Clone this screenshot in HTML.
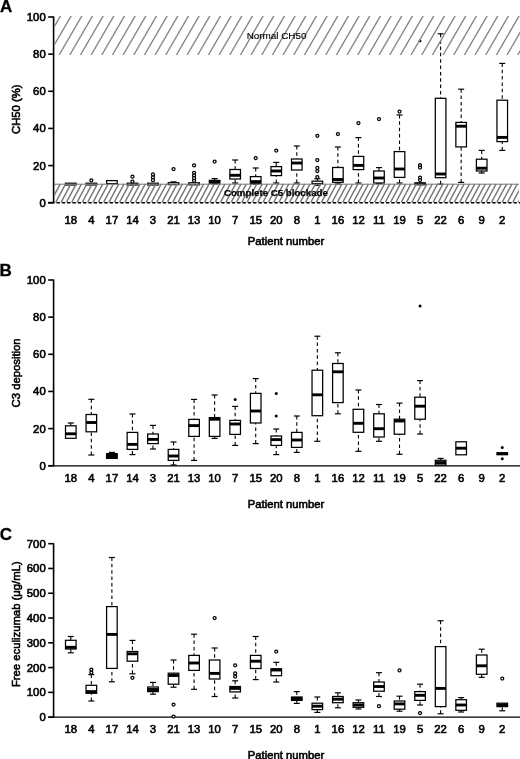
<!DOCTYPE html>
<html><head><meta charset="utf-8"><title>Figure</title>
<style>
html,body{margin:0;padding:0;background:#fff}
svg{display:block}
.t{font-family:"Liberation Sans",sans-serif;font-size:11.3px;fill:#000;stroke:#000;stroke-width:0.6px}
.s{font-size:9.9px;stroke-width:0.15px}
.bd{font-weight:bold;stroke-width:0.25px;font-size:9.7px}
.pl{font-family:"Liberation Sans",sans-serif;font-size:17px;font-weight:bold;fill:#000;stroke:#000;stroke-width:0.3px}
.ax{stroke:#000;stroke-width:1.6;fill:none}
.axx{stroke:#000;stroke-width:1.35;fill:none}
.b{stroke:#000;stroke-width:1.25;fill:#fff}
.k{fill:#000}
.m{stroke:#000;stroke-width:2.9}
.w{stroke:#000;stroke-width:1.1;stroke-dasharray:3.5 2.85}
.c{stroke:#000;stroke-width:1.2}
.o{stroke:#000;stroke-width:1.25;fill:#fff}
.of{fill:#000}
.h1{stroke:#888;stroke-width:1.4;fill:none}
.h2{stroke:#787878;stroke-width:1.45;fill:none}
.h3{stroke:#777;stroke-width:1;fill:none}
</style></head><body>
<svg width="520" height="759" viewBox="0 0 520 759">
<rect width="520" height="759" fill="#fff"/>
<defs><clipPath id="ca"><rect x="54.3" y="15.8" width="466" height="39.1"/></clipPath><clipPath id="cb"><rect x="54.3" y="183.6" width="464.5" height="18.6"/></clipPath></defs>
<line x1="48" y1="202.7" x2="54.6" y2="202.7" class="ax"/>
<line x1="53.6" y1="16.5" x2="53.6" y2="203.2" class="ax"/>
<line x1="48.2" y1="202.7" x2="53.6" y2="202.7" class="ax"/>
<text x="45.7" y="206.7" text-anchor="end" class="t">0</text>
<line x1="48.2" y1="165.56" x2="53.6" y2="165.56" class="ax"/>
<text x="45.7" y="169.56" text-anchor="end" class="t">20</text>
<line x1="48.2" y1="128.42" x2="53.6" y2="128.42" class="ax"/>
<text x="45.7" y="132.42" text-anchor="end" class="t">40</text>
<line x1="48.2" y1="91.28" x2="53.6" y2="91.28" class="ax"/>
<text x="45.7" y="95.28" text-anchor="end" class="t">60</text>
<line x1="48.2" y1="54.14" x2="53.6" y2="54.14" class="ax"/>
<text x="45.7" y="58.14" text-anchor="end" class="t">80</text>
<line x1="48.2" y1="17" x2="53.6" y2="17" class="ax"/>
<text x="45.7" y="21" text-anchor="end" class="t">100</text>
<rect x="65.5" y="183.2" width="10.6" height="1.8" class="b"/>
<rect x="86.05" y="183.2" width="10.6" height="1.8" class="b"/>
<circle cx="91.34" cy="180.3" r="1.5" class="o"/>
<rect x="106.59" y="180.6" width="10.6" height="3" class="b"/>
<rect x="127.14" y="183.2" width="10.6" height="1.8" class="b"/>
<circle cx="132.44" cy="176.7" r="1.5" class="o"/>
<circle cx="132.44" cy="181.6" r="1.5" class="o"/>
<rect x="147.68" y="183.2" width="10.6" height="1.8" class="b"/>
<circle cx="152.98" cy="174.4" r="1.5" class="o"/>
<circle cx="152.98" cy="177.3" r="1.5" class="o"/>
<circle cx="152.98" cy="180.2" r="1.5" class="o"/>
<line x1="173.53" y1="181.9" x2="173.53" y2="182.7" class="w"/>
<line x1="170.53" y1="181.9" x2="176.53" y2="181.9" class="c"/>
<rect x="168.22" y="182.7" width="10.6" height="1.9" class="b"/>
<circle cx="173.53" cy="169" r="1.5" class="o"/>
<rect x="188.77" y="182.8" width="10.6" height="2" class="b"/>
<circle cx="194.07" cy="165.4" r="1.5" class="o"/>
<circle cx="194.07" cy="172.8" r="1.5" class="o"/>
<circle cx="194.07" cy="175.6" r="1.5" class="o"/>
<circle cx="194.07" cy="178.2" r="1.5" class="o"/>
<circle cx="194.07" cy="180.8" r="1.5" class="o"/>
<line x1="214.62" y1="178.6" x2="214.62" y2="180.4" class="w"/>
<line x1="214.62" y1="184" x2="214.62" y2="183.2" class="w"/>
<line x1="211.62" y1="178.6" x2="217.62" y2="178.6" class="c"/>
<line x1="211.62" y1="184" x2="217.62" y2="184" class="c"/>
<rect x="209.31" y="180.4" width="10.6" height="2.8" class="b"/>
<line x1="209.31" y1="181.6" x2="219.92" y2="181.6" class="m"/>
<circle cx="214.62" cy="161.6" r="1.5" class="o"/>
<line x1="235.16" y1="160" x2="235.16" y2="169.5" class="w"/>
<line x1="235.16" y1="183" x2="235.16" y2="179" class="w"/>
<line x1="232.16" y1="160" x2="238.16" y2="160" class="c"/>
<line x1="232.16" y1="183" x2="238.16" y2="183" class="c"/>
<rect x="229.86" y="169.5" width="10.6" height="9.5" class="b"/>
<line x1="229.86" y1="175.3" x2="240.46" y2="175.3" class="m"/>
<line x1="255.71" y1="168" x2="255.71" y2="176.6" class="w"/>
<line x1="255.71" y1="184.2" x2="255.71" y2="183.4" class="w"/>
<line x1="252.71" y1="168" x2="258.71" y2="168" class="c"/>
<line x1="252.71" y1="184.2" x2="258.71" y2="184.2" class="c"/>
<rect x="250.41" y="176.6" width="10.6" height="6.8" class="b"/>
<line x1="250.41" y1="181.6" x2="261.01" y2="181.6" class="m"/>
<circle cx="255.71" cy="158" r="1.5" class="o"/>
<line x1="276.25" y1="162.4" x2="276.25" y2="166.6" class="w"/>
<line x1="276.25" y1="183" x2="276.25" y2="175.6" class="w"/>
<line x1="273.25" y1="162.4" x2="279.25" y2="162.4" class="c"/>
<line x1="273.25" y1="183" x2="279.25" y2="183" class="c"/>
<rect x="270.95" y="166.6" width="10.6" height="9" class="b"/>
<line x1="270.95" y1="171" x2="281.55" y2="171" class="m"/>
<circle cx="276.25" cy="150.6" r="1.5" class="o"/>
<line x1="296.8" y1="146" x2="296.8" y2="159" class="w"/>
<line x1="296.8" y1="183" x2="296.8" y2="170" class="w"/>
<line x1="293.8" y1="146" x2="299.8" y2="146" class="c"/>
<line x1="293.8" y1="183" x2="299.8" y2="183" class="c"/>
<rect x="291.5" y="159" width="10.6" height="11" class="b"/>
<line x1="291.5" y1="163" x2="302.1" y2="163" class="m"/>
<line x1="317.34" y1="178.8" x2="317.34" y2="181.2" class="w"/>
<line x1="317.34" y1="185.2" x2="317.34" y2="183.6" class="w"/>
<line x1="314.34" y1="178.8" x2="320.34" y2="178.8" class="c"/>
<line x1="314.34" y1="185.2" x2="320.34" y2="185.2" class="c"/>
<rect x="312.04" y="181.2" width="10.6" height="2.4" class="b"/>
<circle cx="317.34" cy="135.8" r="1.5" class="o"/>
<circle cx="317.34" cy="160" r="1.5" class="o"/>
<circle cx="317.34" cy="167.9" r="1.5" class="o"/>
<circle cx="317.34" cy="171.1" r="1.5" class="o"/>
<circle cx="317.34" cy="177.1" r="1.5" class="o"/>
<line x1="337.89" y1="147" x2="337.89" y2="167.5" class="w"/>
<line x1="337.89" y1="184" x2="337.89" y2="182.3" class="w"/>
<line x1="334.89" y1="147" x2="340.89" y2="147" class="c"/>
<line x1="334.89" y1="184" x2="340.89" y2="184" class="c"/>
<rect x="332.59" y="167.5" width="10.6" height="14.8" class="b"/>
<line x1="332.59" y1="179.5" x2="343.19" y2="179.5" class="m"/>
<circle cx="337.89" cy="134" r="1.5" class="o"/>
<line x1="358.43" y1="137.6" x2="358.43" y2="156.4" class="w"/>
<line x1="358.43" y1="183" x2="358.43" y2="169.6" class="w"/>
<line x1="355.43" y1="137.6" x2="361.43" y2="137.6" class="c"/>
<line x1="355.43" y1="183" x2="361.43" y2="183" class="c"/>
<rect x="353.13" y="156.4" width="10.6" height="13.2" class="b"/>
<line x1="353.13" y1="165.4" x2="363.73" y2="165.4" class="m"/>
<circle cx="358.43" cy="123" r="1.5" class="o"/>
<line x1="378.98" y1="167.6" x2="378.98" y2="171" class="w"/>
<line x1="378.98" y1="183.6" x2="378.98" y2="183" class="w"/>
<line x1="375.98" y1="167.6" x2="381.98" y2="167.6" class="c"/>
<line x1="375.98" y1="183.6" x2="381.98" y2="183.6" class="c"/>
<rect x="373.68" y="171" width="10.6" height="12" class="b"/>
<line x1="373.68" y1="178" x2="384.28" y2="178" class="m"/>
<circle cx="378.98" cy="119" r="1.5" class="o"/>
<line x1="399.52" y1="115" x2="399.52" y2="151.6" class="w"/>
<line x1="399.52" y1="183" x2="399.52" y2="177.4" class="w"/>
<line x1="396.52" y1="115" x2="402.52" y2="115" class="c"/>
<line x1="396.52" y1="183" x2="402.52" y2="183" class="c"/>
<rect x="394.22" y="151.6" width="10.6" height="25.8" class="b"/>
<line x1="394.22" y1="169" x2="404.82" y2="169" class="m"/>
<circle cx="399.52" cy="111.6" r="1.5" class="o"/>
<rect x="414.77" y="183" width="10.6" height="1.6" class="b"/>
<line x1="414.77" y1="183.8" x2="425.37" y2="183.8" class="m"/>
<circle cx="420.07" cy="165" r="1.5" class="o"/>
<circle cx="420.07" cy="167.5" r="1.5" class="o"/>
<circle cx="420.07" cy="177.7" r="1.5" class="o"/>
<circle cx="420.07" cy="180" r="1.5" class="o"/>
<circle cx="420.07" cy="40.9" r="0.8" class="o"/>
<line x1="440.61" y1="33.8" x2="440.61" y2="98.3" class="w"/>
<line x1="440.61" y1="184.2" x2="440.61" y2="177.7" class="w"/>
<line x1="437.61" y1="33.8" x2="443.61" y2="33.8" class="c"/>
<line x1="437.61" y1="184.2" x2="443.61" y2="184.2" class="c"/>
<rect x="435.31" y="98.3" width="10.6" height="79.4" class="b"/>
<line x1="435.31" y1="174" x2="445.91" y2="174" class="m"/>
<line x1="461.16" y1="89.2" x2="461.16" y2="122.4" class="w"/>
<line x1="461.16" y1="182.4" x2="461.16" y2="146.9" class="w"/>
<line x1="458.16" y1="89.2" x2="464.16" y2="89.2" class="c"/>
<line x1="458.16" y1="182.4" x2="464.16" y2="182.4" class="c"/>
<rect x="455.86" y="122.4" width="10.6" height="24.5" class="b"/>
<line x1="455.86" y1="126.2" x2="466.46" y2="126.2" class="m"/>
<line x1="481.7" y1="150.4" x2="481.7" y2="159.2" class="w"/>
<line x1="481.7" y1="173" x2="481.7" y2="171" class="w"/>
<line x1="478.7" y1="150.4" x2="484.7" y2="150.4" class="c"/>
<line x1="478.7" y1="173" x2="484.7" y2="173" class="c"/>
<rect x="476.4" y="159.2" width="10.6" height="11.8" class="b"/>
<line x1="476.4" y1="168.2" x2="487" y2="168.2" class="m"/>
<line x1="502.25" y1="63.4" x2="502.25" y2="100.2" class="w"/>
<line x1="502.25" y1="150.4" x2="502.25" y2="141.6" class="w"/>
<line x1="499.25" y1="63.4" x2="505.25" y2="63.4" class="c"/>
<line x1="499.25" y1="150.4" x2="505.25" y2="150.4" class="c"/>
<rect x="496.95" y="100.2" width="10.6" height="41.4" class="b"/>
<line x1="496.95" y1="137.4" x2="507.55" y2="137.4" class="m"/>
<g clip-path="url(#ca)"><path d="M27.11 55L49.9 15.8M37.77 55L60.56 15.8M48.44 55L71.23 15.8M59.1 55L81.89 15.8M69.77 55L92.56 15.8M80.43 55L103.22 15.8M91.1 55L113.89 15.8M101.76 55L124.55 15.8M112.43 55L135.22 15.8M123.09 55L145.88 15.8M133.76 55L156.55 15.8M144.42 55L167.21 15.8M155.09 55L177.88 15.8M165.75 55L188.54 15.8M176.42 55L199.21 15.8M187.08 55L209.87 15.8M197.75 55L220.54 15.8M208.41 55L231.2 15.8M219.08 55L241.87 15.8M229.74 55L252.53 15.8M240.41 55L263.2 15.8M251.07 55L273.86 15.8M261.74 55L284.53 15.8M272.4 55L295.19 15.8M283.07 55L305.86 15.8M293.73 55L316.52 15.8M304.4 55L327.19 15.8M315.06 55L337.85 15.8M325.73 55L348.52 15.8M336.39 55L359.19 15.8M347.06 55L369.85 15.8M357.72 55L380.52 15.8M368.39 55L391.18 15.8M379.05 55L401.85 15.8M389.72 55L412.51 15.8M400.38 55L423.18 15.8M411.05 55L433.84 15.8M421.71 55L444.51 15.8M432.38 55L455.17 15.8M443.04 55L465.84 15.8M453.71 55L476.5 15.8M464.37 55L487.17 15.8M475.04 55L497.83 15.8M485.7 55L508.5 15.8M496.37 55L519.16 15.8M507.03 55L529.83 15.8M517.7 55L540.49 15.8" class="h1"/></g>
<g clip-path="url(#cb)"><path d="M44.44 203.6L55 183.8M49.75 203.6L60.31 183.8M55.07 203.6L65.63 183.8M60.38 203.6L70.94 183.8M65.7 203.6L76.26 183.8M71.01 203.6L81.57 183.8M76.32 203.6L86.88 183.8M81.64 203.6L92.2 183.8M86.95 203.6L97.51 183.8M92.27 203.6L102.83 183.8M97.58 203.6L108.14 183.8M102.89 203.6L113.45 183.8M108.21 203.6L118.77 183.8M113.52 203.6L124.08 183.8M118.84 203.6L129.4 183.8M124.15 203.6L134.71 183.8M129.46 203.6L140.02 183.8M134.78 203.6L145.34 183.8M140.09 203.6L150.65 183.8M145.41 203.6L155.97 183.8M150.72 203.6L161.28 183.8M156.03 203.6L166.59 183.8M161.35 203.6L171.91 183.8M166.66 203.6L177.22 183.8M171.98 203.6L182.54 183.8M177.29 203.6L187.85 183.8M182.6 203.6L193.16 183.8M187.92 203.6L198.48 183.8M193.23 203.6L203.79 183.8M198.55 203.6L209.11 183.8M203.86 203.6L214.42 183.8M209.17 203.6L219.73 183.8M214.49 203.6L225.05 183.8M219.8 203.6L230.36 183.8M225.12 203.6L235.68 183.8M230.43 203.6L240.99 183.8M235.74 203.6L246.3 183.8M241.06 203.6L251.62 183.8M246.37 203.6L256.93 183.8M251.69 203.6L262.25 183.8M257 203.6L267.56 183.8M262.31 203.6L272.87 183.8M267.63 203.6L278.19 183.8M272.94 203.6L283.5 183.8M278.26 203.6L288.82 183.8M283.57 203.6L294.13 183.8M288.88 203.6L299.44 183.8M294.2 203.6L304.76 183.8M299.51 203.6L310.07 183.8M304.83 203.6L315.39 183.8M310.14 203.6L320.7 183.8M315.45 203.6L326.01 183.8M320.77 203.6L331.33 183.8M326.08 203.6L336.64 183.8M331.4 203.6L341.96 183.8M336.71 203.6L347.27 183.8M342.02 203.6L352.58 183.8M347.34 203.6L357.9 183.8M352.65 203.6L363.21 183.8M357.97 203.6L368.53 183.8M363.28 203.6L373.84 183.8M368.59 203.6L379.15 183.8M373.91 203.6L384.47 183.8M379.22 203.6L389.78 183.8M384.54 203.6L395.1 183.8M389.85 203.6L400.41 183.8M395.16 203.6L405.72 183.8M400.48 203.6L411.04 183.8M405.79 203.6L416.35 183.8M411.11 203.6L421.67 183.8M416.42 203.6L426.98 183.8M421.73 203.6L432.29 183.8M427.05 203.6L437.61 183.8M432.36 203.6L442.92 183.8M437.68 203.6L448.24 183.8M442.99 203.6L453.55 183.8M448.3 203.6L458.86 183.8M453.62 203.6L464.18 183.8M458.93 203.6L469.49 183.8M464.25 203.6L474.81 183.8M469.56 203.6L480.12 183.8M474.87 203.6L485.43 183.8M480.19 203.6L490.75 183.8M485.5 203.6L496.06 183.8M490.82 203.6L501.38 183.8M496.13 203.6L506.69 183.8M501.44 203.6L512 183.8M506.76 203.6L517.32 183.8M512.07 203.6L522.63 183.8M517.39 203.6L527.95 183.8" class="h2"/></g>
<line x1="54" y1="184.2" x2="519" y2="184.2" class="h3"/>
<line x1="56.5" y1="202.7" x2="520" y2="202.7" class="ax" stroke-dasharray="3.414 1.9"/>
<text x="276.6" y="38.8" text-anchor="middle" class="t s">Normal CH50</text>
<text x="275.9" y="195.7" text-anchor="middle" class="t s bd">Complete C5 blockade</text>
<text x="70.8" y="224.2" text-anchor="middle" class="t">18</text>
<text x="91.34" y="224.2" text-anchor="middle" class="t">4</text>
<text x="111.89" y="224.2" text-anchor="middle" class="t">17</text>
<text x="132.44" y="224.2" text-anchor="middle" class="t">14</text>
<text x="152.98" y="224.2" text-anchor="middle" class="t">3</text>
<text x="173.53" y="224.2" text-anchor="middle" class="t">21</text>
<text x="194.07" y="224.2" text-anchor="middle" class="t">13</text>
<text x="214.62" y="224.2" text-anchor="middle" class="t">10</text>
<text x="235.16" y="224.2" text-anchor="middle" class="t">7</text>
<text x="255.71" y="224.2" text-anchor="middle" class="t">15</text>
<text x="276.25" y="224.2" text-anchor="middle" class="t">20</text>
<text x="296.8" y="224.2" text-anchor="middle" class="t">8</text>
<text x="317.34" y="224.2" text-anchor="middle" class="t">1</text>
<text x="337.89" y="224.2" text-anchor="middle" class="t">16</text>
<text x="358.43" y="224.2" text-anchor="middle" class="t">12</text>
<text x="378.98" y="224.2" text-anchor="middle" class="t">11</text>
<text x="399.52" y="224.2" text-anchor="middle" class="t">19</text>
<text x="420.07" y="224.2" text-anchor="middle" class="t">5</text>
<text x="440.61" y="224.2" text-anchor="middle" class="t">22</text>
<text x="461.16" y="224.2" text-anchor="middle" class="t">6</text>
<text x="481.7" y="224.2" text-anchor="middle" class="t">9</text>
<text x="502.25" y="224.2" text-anchor="middle" class="t">2</text>
<text x="286" y="244.8" text-anchor="middle" class="t">Patient number</text>
<text transform="translate(20.0,109.2) rotate(-90)" text-anchor="middle" class="t">CH50 (%)</text>
<text x="0" y="12.1" class="pl">A</text>
<line x1="48.3" y1="465.9" x2="520" y2="465.9" class="axx"/>
<line x1="53.6" y1="279.5" x2="53.6" y2="466.25" class="ax"/>
<line x1="48.2" y1="465.75" x2="53.6" y2="465.75" class="ax"/>
<text x="45.7" y="469.75" text-anchor="end" class="t">0</text>
<line x1="48.2" y1="428.6" x2="53.6" y2="428.6" class="ax"/>
<text x="45.7" y="432.6" text-anchor="end" class="t">20</text>
<line x1="48.2" y1="391.45" x2="53.6" y2="391.45" class="ax"/>
<text x="45.7" y="395.45" text-anchor="end" class="t">40</text>
<line x1="48.2" y1="354.3" x2="53.6" y2="354.3" class="ax"/>
<text x="45.7" y="358.3" text-anchor="end" class="t">60</text>
<line x1="48.2" y1="317.15" x2="53.6" y2="317.15" class="ax"/>
<text x="45.7" y="321.15" text-anchor="end" class="t">80</text>
<line x1="48.2" y1="280" x2="53.6" y2="280" class="ax"/>
<text x="45.7" y="284" text-anchor="end" class="t">100</text>
<line x1="70.8" y1="423" x2="70.8" y2="425.8" class="w"/>
<line x1="67.8" y1="423" x2="73.8" y2="423" class="c"/>
<rect x="65.5" y="425.8" width="10.6" height="12.5" class="b"/>
<line x1="65.5" y1="433.8" x2="76.1" y2="433.8" class="m"/>
<line x1="91.34" y1="399.3" x2="91.34" y2="414.5" class="w"/>
<line x1="91.34" y1="455" x2="91.34" y2="431.8" class="w"/>
<line x1="88.34" y1="399.3" x2="94.34" y2="399.3" class="c"/>
<line x1="88.34" y1="455" x2="94.34" y2="455" class="c"/>
<rect x="86.05" y="414.5" width="10.6" height="17.3" class="b"/>
<line x1="86.05" y1="422.5" x2="96.64" y2="422.5" class="m"/>
<line x1="111.89" y1="452.4" x2="111.89" y2="453.6" class="w"/>
<line x1="108.89" y1="452.4" x2="114.89" y2="452.4" class="c"/>
<rect x="106.59" y="453.6" width="10.6" height="4.8" class="b k"/>
<line x1="106.59" y1="456" x2="117.19" y2="456" class="m"/>
<line x1="132.44" y1="414" x2="132.44" y2="432.4" class="w"/>
<line x1="132.44" y1="454.6" x2="132.44" y2="449.4" class="w"/>
<line x1="129.44" y1="414" x2="135.44" y2="414" class="c"/>
<line x1="129.44" y1="454.6" x2="135.44" y2="454.6" class="c"/>
<rect x="127.14" y="432.4" width="10.6" height="17" class="b"/>
<line x1="127.14" y1="444.4" x2="137.74" y2="444.4" class="m"/>
<line x1="152.98" y1="425.4" x2="152.98" y2="434" class="w"/>
<line x1="152.98" y1="449" x2="152.98" y2="443.6" class="w"/>
<line x1="149.98" y1="425.4" x2="155.98" y2="425.4" class="c"/>
<line x1="149.98" y1="449" x2="155.98" y2="449" class="c"/>
<rect x="147.68" y="434" width="10.6" height="9.6" class="b"/>
<line x1="147.68" y1="439.4" x2="158.28" y2="439.4" class="m"/>
<line x1="173.53" y1="442" x2="173.53" y2="449.4" class="w"/>
<line x1="173.53" y1="465" x2="173.53" y2="460.4" class="w"/>
<line x1="170.53" y1="442" x2="176.53" y2="442" class="c"/>
<line x1="170.53" y1="465" x2="176.53" y2="465" class="c"/>
<rect x="168.22" y="449.4" width="10.6" height="11" class="b"/>
<line x1="168.22" y1="456" x2="178.83" y2="456" class="m"/>
<line x1="194.07" y1="399.4" x2="194.07" y2="419.4" class="w"/>
<line x1="194.07" y1="460.4" x2="194.07" y2="436.4" class="w"/>
<line x1="191.07" y1="399.4" x2="197.07" y2="399.4" class="c"/>
<line x1="191.07" y1="460.4" x2="197.07" y2="460.4" class="c"/>
<rect x="188.77" y="419.4" width="10.6" height="17" class="b"/>
<line x1="188.77" y1="425.6" x2="199.37" y2="425.6" class="m"/>
<line x1="214.62" y1="395" x2="214.62" y2="417.6" class="w"/>
<line x1="214.62" y1="438.4" x2="214.62" y2="436.4" class="w"/>
<line x1="211.62" y1="395" x2="217.62" y2="395" class="c"/>
<line x1="211.62" y1="438.4" x2="217.62" y2="438.4" class="c"/>
<rect x="209.31" y="417.6" width="10.6" height="18.8" class="b"/>
<line x1="209.31" y1="419.2" x2="219.92" y2="419.2" class="m"/>
<line x1="235.16" y1="406.4" x2="235.16" y2="420.4" class="w"/>
<line x1="235.16" y1="445.4" x2="235.16" y2="434.4" class="w"/>
<line x1="232.16" y1="406.4" x2="238.16" y2="406.4" class="c"/>
<line x1="232.16" y1="445.4" x2="238.16" y2="445.4" class="c"/>
<rect x="229.86" y="420.4" width="10.6" height="14" class="b"/>
<line x1="229.86" y1="424" x2="240.46" y2="424" class="m"/>
<circle cx="235.16" cy="399.4" r="1.5" class="of"/>
<line x1="255.71" y1="378.6" x2="255.71" y2="393.4" class="w"/>
<line x1="255.71" y1="443.6" x2="255.71" y2="423" class="w"/>
<line x1="252.71" y1="378.6" x2="258.71" y2="378.6" class="c"/>
<line x1="252.71" y1="443.6" x2="258.71" y2="443.6" class="c"/>
<rect x="250.41" y="393.4" width="10.6" height="29.6" class="b"/>
<line x1="250.41" y1="411" x2="261.01" y2="411" class="m"/>
<line x1="276.25" y1="429" x2="276.25" y2="436" class="w"/>
<line x1="276.25" y1="454.6" x2="276.25" y2="445.4" class="w"/>
<line x1="273.25" y1="429" x2="279.25" y2="429" class="c"/>
<line x1="273.25" y1="454.6" x2="279.25" y2="454.6" class="c"/>
<rect x="270.95" y="436" width="10.6" height="9.4" class="b"/>
<line x1="270.95" y1="439.6" x2="281.55" y2="439.6" class="m"/>
<circle cx="276.25" cy="393.4" r="1.5" class="of"/>
<circle cx="276.25" cy="416" r="1.5" class="of"/>
<line x1="296.8" y1="416" x2="296.8" y2="432.4" class="w"/>
<line x1="296.8" y1="452.4" x2="296.8" y2="447.4" class="w"/>
<line x1="293.8" y1="416" x2="299.8" y2="416" class="c"/>
<line x1="293.8" y1="452.4" x2="299.8" y2="452.4" class="c"/>
<rect x="291.5" y="432.4" width="10.6" height="15" class="b"/>
<line x1="291.5" y1="440" x2="302.1" y2="440" class="m"/>
<line x1="317.34" y1="336.2" x2="317.34" y2="370.2" class="w"/>
<line x1="317.34" y1="441.3" x2="317.34" y2="415.7" class="w"/>
<line x1="314.34" y1="336.2" x2="320.34" y2="336.2" class="c"/>
<line x1="314.34" y1="441.3" x2="320.34" y2="441.3" class="c"/>
<rect x="312.04" y="370.2" width="10.6" height="45.5" class="b"/>
<line x1="312.04" y1="394.8" x2="322.64" y2="394.8" class="m"/>
<line x1="337.89" y1="352.8" x2="337.89" y2="363.5" class="w"/>
<line x1="337.89" y1="413.8" x2="337.89" y2="402.6" class="w"/>
<line x1="334.89" y1="352.8" x2="340.89" y2="352.8" class="c"/>
<line x1="334.89" y1="413.8" x2="340.89" y2="413.8" class="c"/>
<rect x="332.59" y="363.5" width="10.6" height="39.1" class="b"/>
<line x1="332.59" y1="371.8" x2="343.19" y2="371.8" class="m"/>
<line x1="358.43" y1="390" x2="358.43" y2="409.3" class="w"/>
<line x1="358.43" y1="451.3" x2="358.43" y2="432.3" class="w"/>
<line x1="355.43" y1="390" x2="361.43" y2="390" class="c"/>
<line x1="355.43" y1="451.3" x2="361.43" y2="451.3" class="c"/>
<rect x="353.13" y="409.3" width="10.6" height="23" class="b"/>
<line x1="353.13" y1="423.3" x2="363.73" y2="423.3" class="m"/>
<line x1="378.98" y1="404.5" x2="378.98" y2="413.8" class="w"/>
<line x1="378.98" y1="441.3" x2="378.98" y2="437" class="w"/>
<line x1="375.98" y1="404.5" x2="381.98" y2="404.5" class="c"/>
<line x1="375.98" y1="441.3" x2="381.98" y2="441.3" class="c"/>
<rect x="373.68" y="413.8" width="10.6" height="23.2" class="b"/>
<line x1="373.68" y1="428.7" x2="384.28" y2="428.7" class="m"/>
<line x1="399.52" y1="403.1" x2="399.52" y2="419.2" class="w"/>
<line x1="399.52" y1="454.3" x2="399.52" y2="434.2" class="w"/>
<line x1="396.52" y1="403.1" x2="402.52" y2="403.1" class="c"/>
<line x1="396.52" y1="454.3" x2="402.52" y2="454.3" class="c"/>
<rect x="394.22" y="419.2" width="10.6" height="15" class="b"/>
<line x1="394.22" y1="421" x2="404.82" y2="421" class="m"/>
<line x1="420.07" y1="380.6" x2="420.07" y2="397.2" class="w"/>
<line x1="420.07" y1="434" x2="420.07" y2="419.2" class="w"/>
<line x1="417.07" y1="380.6" x2="423.07" y2="380.6" class="c"/>
<line x1="417.07" y1="434" x2="423.07" y2="434" class="c"/>
<rect x="414.77" y="397.2" width="10.6" height="22" class="b"/>
<line x1="414.77" y1="406.2" x2="425.37" y2="406.2" class="m"/>
<circle cx="420.07" cy="306.1" r="1.5" class="of"/>
<line x1="440.61" y1="458.4" x2="440.61" y2="460.3" class="w"/>
<line x1="437.61" y1="458.4" x2="443.61" y2="458.4" class="c"/>
<rect x="435.31" y="460.3" width="10.6" height="4.7" class="b"/>
<line x1="435.31" y1="462.6" x2="445.91" y2="462.6" class="m"/>
<rect x="455.86" y="441.8" width="10.6" height="13" class="b"/>
<line x1="455.86" y1="448.2" x2="466.46" y2="448.2" class="m"/>
<rect x="496.95" y="452.8" width="10.6" height="1.8" class="b"/>
<line x1="496.95" y1="453.7" x2="507.55" y2="453.7" class="m"/>
<circle cx="502.25" cy="447.5" r="1.5" class="of"/>
<circle cx="502.25" cy="458.7" r="1.5" class="of"/>
<text x="70.8" y="481.8" text-anchor="middle" class="t">18</text>
<text x="91.34" y="481.8" text-anchor="middle" class="t">4</text>
<text x="111.89" y="481.8" text-anchor="middle" class="t">17</text>
<text x="132.44" y="481.8" text-anchor="middle" class="t">14</text>
<text x="152.98" y="481.8" text-anchor="middle" class="t">3</text>
<text x="173.53" y="481.8" text-anchor="middle" class="t">21</text>
<text x="194.07" y="481.8" text-anchor="middle" class="t">13</text>
<text x="214.62" y="481.8" text-anchor="middle" class="t">10</text>
<text x="235.16" y="481.8" text-anchor="middle" class="t">7</text>
<text x="255.71" y="481.8" text-anchor="middle" class="t">15</text>
<text x="276.25" y="481.8" text-anchor="middle" class="t">20</text>
<text x="296.8" y="481.8" text-anchor="middle" class="t">8</text>
<text x="317.34" y="481.8" text-anchor="middle" class="t">1</text>
<text x="337.89" y="481.8" text-anchor="middle" class="t">16</text>
<text x="358.43" y="481.8" text-anchor="middle" class="t">12</text>
<text x="378.98" y="481.8" text-anchor="middle" class="t">11</text>
<text x="399.52" y="481.8" text-anchor="middle" class="t">19</text>
<text x="420.07" y="481.8" text-anchor="middle" class="t">5</text>
<text x="440.61" y="481.8" text-anchor="middle" class="t">22</text>
<text x="461.16" y="481.8" text-anchor="middle" class="t">6</text>
<text x="481.7" y="481.8" text-anchor="middle" class="t">9</text>
<text x="502.25" y="481.8" text-anchor="middle" class="t">2</text>
<text x="286" y="507.7" text-anchor="middle" class="t">Patient number</text>
<text transform="translate(20.0,372.9) rotate(-90)" text-anchor="middle" class="t">C3 deposition</text>
<text x="-0.4" y="275.5" class="pl">B</text>
<line x1="48.3" y1="717.15" x2="520" y2="717.15" class="axx"/>
<line x1="53.6" y1="543.2" x2="53.6" y2="717.65" class="ax"/>
<line x1="48.2" y1="717.15" x2="53.6" y2="717.15" class="ax"/>
<text x="45.7" y="721.15" text-anchor="end" class="t">0</text>
<line x1="48.2" y1="692.37" x2="53.6" y2="692.37" class="ax"/>
<text x="45.7" y="696.37" text-anchor="end" class="t">100</text>
<line x1="48.2" y1="667.59" x2="53.6" y2="667.59" class="ax"/>
<text x="45.7" y="671.59" text-anchor="end" class="t">200</text>
<line x1="48.2" y1="642.81" x2="53.6" y2="642.81" class="ax"/>
<text x="45.7" y="646.81" text-anchor="end" class="t">300</text>
<line x1="48.2" y1="618.03" x2="53.6" y2="618.03" class="ax"/>
<text x="45.7" y="622.03" text-anchor="end" class="t">400</text>
<line x1="48.2" y1="593.25" x2="53.6" y2="593.25" class="ax"/>
<text x="45.7" y="597.25" text-anchor="end" class="t">500</text>
<line x1="48.2" y1="568.47" x2="53.6" y2="568.47" class="ax"/>
<text x="45.7" y="572.47" text-anchor="end" class="t">600</text>
<line x1="48.2" y1="543.69" x2="53.6" y2="543.69" class="ax"/>
<text x="45.7" y="547.69" text-anchor="end" class="t">700</text>
<line x1="70.8" y1="636.5" x2="70.8" y2="640.3" class="w"/>
<line x1="70.8" y1="652.8" x2="70.8" y2="649" class="w"/>
<line x1="67.8" y1="636.5" x2="73.8" y2="636.5" class="c"/>
<line x1="67.8" y1="652.8" x2="73.8" y2="652.8" class="c"/>
<rect x="65.5" y="640.3" width="10.6" height="8.7" class="b"/>
<line x1="65.5" y1="647.3" x2="76.1" y2="647.3" class="m"/>
<line x1="91.34" y1="674.6" x2="91.34" y2="685.3" class="w"/>
<line x1="91.34" y1="701" x2="91.34" y2="693.3" class="w"/>
<line x1="88.34" y1="674.6" x2="94.34" y2="674.6" class="c"/>
<line x1="88.34" y1="701" x2="94.34" y2="701" class="c"/>
<rect x="86.05" y="685.3" width="10.6" height="8" class="b"/>
<line x1="86.05" y1="691.6" x2="96.64" y2="691.6" class="m"/>
<circle cx="91.34" cy="669.5" r="1.5" class="o"/>
<circle cx="91.34" cy="672.6" r="1.5" class="o"/>
<line x1="111.89" y1="557.5" x2="111.89" y2="606.6" class="w"/>
<line x1="111.89" y1="681.8" x2="111.89" y2="668.4" class="w"/>
<line x1="108.89" y1="557.5" x2="114.89" y2="557.5" class="c"/>
<line x1="108.89" y1="681.8" x2="114.89" y2="681.8" class="c"/>
<rect x="106.59" y="606.6" width="10.6" height="61.8" class="b"/>
<line x1="106.59" y1="634.4" x2="117.19" y2="634.4" class="m"/>
<line x1="132.44" y1="640.4" x2="132.44" y2="651.5" class="w"/>
<line x1="132.44" y1="673.8" x2="132.44" y2="661.2" class="w"/>
<line x1="129.44" y1="640.4" x2="135.44" y2="640.4" class="c"/>
<line x1="129.44" y1="673.8" x2="135.44" y2="673.8" class="c"/>
<rect x="127.14" y="651.5" width="10.6" height="9.7" class="b"/>
<line x1="127.14" y1="653.8" x2="137.74" y2="653.8" class="m"/>
<circle cx="132.44" cy="677.8" r="1.5" class="o"/>
<line x1="152.98" y1="682.4" x2="152.98" y2="687" class="w"/>
<line x1="152.98" y1="694.2" x2="152.98" y2="691.6" class="w"/>
<line x1="149.98" y1="682.4" x2="155.98" y2="682.4" class="c"/>
<line x1="149.98" y1="694.2" x2="155.98" y2="694.2" class="c"/>
<rect x="147.68" y="687" width="10.6" height="4.6" class="b"/>
<line x1="147.68" y1="689.5" x2="158.28" y2="689.5" class="m"/>
<line x1="173.53" y1="660" x2="173.53" y2="673.2" class="w"/>
<line x1="173.53" y1="687.2" x2="173.53" y2="684.2" class="w"/>
<line x1="170.53" y1="660" x2="176.53" y2="660" class="c"/>
<line x1="170.53" y1="687.2" x2="176.53" y2="687.2" class="c"/>
<rect x="168.22" y="673.2" width="10.6" height="11" class="b"/>
<line x1="168.22" y1="675.5" x2="178.83" y2="675.5" class="m"/>
<circle cx="173.53" cy="704.5" r="1.5" class="o"/>
<circle cx="173.53" cy="716.5" r="1.5" class="o"/>
<line x1="194.07" y1="634.2" x2="194.07" y2="655.4" class="w"/>
<line x1="194.07" y1="689.3" x2="194.07" y2="670.4" class="w"/>
<line x1="191.07" y1="634.2" x2="197.07" y2="634.2" class="c"/>
<line x1="191.07" y1="689.3" x2="197.07" y2="689.3" class="c"/>
<rect x="188.77" y="655.4" width="10.6" height="15" class="b"/>
<line x1="188.77" y1="663" x2="199.37" y2="663" class="m"/>
<line x1="214.62" y1="648" x2="214.62" y2="660" class="w"/>
<line x1="214.62" y1="696.5" x2="214.62" y2="679" class="w"/>
<line x1="211.62" y1="648" x2="217.62" y2="648" class="c"/>
<line x1="211.62" y1="696.5" x2="217.62" y2="696.5" class="c"/>
<rect x="209.31" y="660" width="10.6" height="19" class="b"/>
<line x1="209.31" y1="673.4" x2="219.92" y2="673.4" class="m"/>
<circle cx="214.62" cy="618" r="1.5" class="o"/>
<line x1="235.16" y1="680.8" x2="235.16" y2="686.5" class="w"/>
<line x1="235.16" y1="698" x2="235.16" y2="691.9" class="w"/>
<line x1="232.16" y1="680.8" x2="238.16" y2="680.8" class="c"/>
<line x1="232.16" y1="698" x2="238.16" y2="698" class="c"/>
<rect x="229.86" y="686.5" width="10.6" height="5.4" class="b"/>
<line x1="229.86" y1="688.4" x2="240.46" y2="688.4" class="m"/>
<circle cx="235.16" cy="665.3" r="1.5" class="o"/>
<circle cx="235.16" cy="673.4" r="1.5" class="o"/>
<circle cx="235.16" cy="676.6" r="1.5" class="o"/>
<line x1="255.71" y1="636.5" x2="255.71" y2="655.4" class="w"/>
<line x1="255.71" y1="679.6" x2="255.71" y2="668.5" class="w"/>
<line x1="252.71" y1="636.5" x2="258.71" y2="636.5" class="c"/>
<line x1="252.71" y1="679.6" x2="258.71" y2="679.6" class="c"/>
<rect x="250.41" y="655.4" width="10.6" height="13.1" class="b"/>
<line x1="250.41" y1="661.2" x2="261.01" y2="661.2" class="m"/>
<line x1="276.25" y1="662.3" x2="276.25" y2="668.8" class="w"/>
<line x1="276.25" y1="682" x2="276.25" y2="675.7" class="w"/>
<line x1="273.25" y1="662.3" x2="279.25" y2="662.3" class="c"/>
<line x1="273.25" y1="682" x2="279.25" y2="682" class="c"/>
<rect x="270.95" y="668.8" width="10.6" height="6.9" class="b"/>
<line x1="270.95" y1="670" x2="281.55" y2="670" class="m"/>
<circle cx="276.25" cy="651.5" r="1.5" class="o"/>
<line x1="296.8" y1="691.6" x2="296.8" y2="697" class="w"/>
<line x1="296.8" y1="703.4" x2="296.8" y2="700.4" class="w"/>
<line x1="293.8" y1="691.6" x2="299.8" y2="691.6" class="c"/>
<line x1="293.8" y1="703.4" x2="299.8" y2="703.4" class="c"/>
<rect x="291.5" y="697" width="10.6" height="3.4" class="b"/>
<line x1="291.5" y1="698.5" x2="302.1" y2="698.5" class="m"/>
<line x1="317.34" y1="697" x2="317.34" y2="703.2" class="w"/>
<line x1="317.34" y1="712.4" x2="317.34" y2="709.6" class="w"/>
<line x1="314.34" y1="697" x2="320.34" y2="697" class="c"/>
<line x1="314.34" y1="712.4" x2="320.34" y2="712.4" class="c"/>
<rect x="312.04" y="703.2" width="10.6" height="6.4" class="b"/>
<line x1="312.04" y1="706.2" x2="322.64" y2="706.2" class="m"/>
<line x1="337.89" y1="692.8" x2="337.89" y2="696.5" class="w"/>
<line x1="337.89" y1="707.8" x2="337.89" y2="702.7" class="w"/>
<line x1="334.89" y1="692.8" x2="340.89" y2="692.8" class="c"/>
<line x1="334.89" y1="707.8" x2="340.89" y2="707.8" class="c"/>
<rect x="332.59" y="696.5" width="10.6" height="6.2" class="b"/>
<line x1="332.59" y1="699.2" x2="343.19" y2="699.2" class="m"/>
<line x1="358.43" y1="700" x2="358.43" y2="702.7" class="w"/>
<line x1="358.43" y1="709" x2="358.43" y2="707.3" class="w"/>
<line x1="355.43" y1="700" x2="361.43" y2="700" class="c"/>
<line x1="355.43" y1="709" x2="361.43" y2="709" class="c"/>
<rect x="353.13" y="702.7" width="10.6" height="4.6" class="b"/>
<line x1="353.13" y1="705" x2="363.73" y2="705" class="m"/>
<line x1="378.98" y1="672.7" x2="378.98" y2="682" class="w"/>
<line x1="378.98" y1="696.5" x2="378.98" y2="691.2" class="w"/>
<line x1="375.98" y1="672.7" x2="381.98" y2="672.7" class="c"/>
<line x1="375.98" y1="696.5" x2="381.98" y2="696.5" class="c"/>
<rect x="373.68" y="682" width="10.6" height="9.2" class="b"/>
<line x1="373.68" y1="686.5" x2="384.28" y2="686.5" class="m"/>
<circle cx="378.98" cy="706.2" r="1.5" class="o"/>
<line x1="399.52" y1="696.2" x2="399.52" y2="701" class="w"/>
<line x1="399.52" y1="711.2" x2="399.52" y2="709.2" class="w"/>
<line x1="396.52" y1="696.2" x2="402.52" y2="696.2" class="c"/>
<line x1="396.52" y1="711.2" x2="402.52" y2="711.2" class="c"/>
<rect x="394.22" y="701" width="10.6" height="8.2" class="b"/>
<line x1="394.22" y1="703.9" x2="404.82" y2="703.9" class="m"/>
<circle cx="399.52" cy="670.4" r="1.5" class="o"/>
<line x1="420.07" y1="684.2" x2="420.07" y2="691.6" class="w"/>
<line x1="420.07" y1="705" x2="420.07" y2="700.4" class="w"/>
<line x1="417.07" y1="684.2" x2="423.07" y2="684.2" class="c"/>
<line x1="417.07" y1="705" x2="423.07" y2="705" class="c"/>
<rect x="414.77" y="691.6" width="10.6" height="8.8" class="b"/>
<line x1="414.77" y1="695.3" x2="425.37" y2="695.3" class="m"/>
<circle cx="420.07" cy="713" r="1.5" class="o"/>
<line x1="440.61" y1="620.8" x2="440.61" y2="646.6" class="w"/>
<line x1="440.61" y1="713.8" x2="440.61" y2="706.6" class="w"/>
<line x1="437.61" y1="620.8" x2="443.61" y2="620.8" class="c"/>
<line x1="437.61" y1="713.8" x2="443.61" y2="713.8" class="c"/>
<rect x="435.31" y="646.6" width="10.6" height="60" class="b"/>
<line x1="435.31" y1="688.4" x2="445.91" y2="688.4" class="m"/>
<line x1="461.16" y1="697.6" x2="461.16" y2="699.7" class="w"/>
<line x1="461.16" y1="712" x2="461.16" y2="710.3" class="w"/>
<line x1="458.16" y1="697.6" x2="464.16" y2="697.6" class="c"/>
<line x1="458.16" y1="712" x2="464.16" y2="712" class="c"/>
<rect x="455.86" y="699.7" width="10.6" height="10.6" class="b"/>
<line x1="455.86" y1="705" x2="466.46" y2="705" class="m"/>
<line x1="481.7" y1="649.2" x2="481.7" y2="655" class="w"/>
<line x1="481.7" y1="677.3" x2="481.7" y2="674.3" class="w"/>
<line x1="478.7" y1="649.2" x2="484.7" y2="649.2" class="c"/>
<line x1="478.7" y1="677.3" x2="484.7" y2="677.3" class="c"/>
<rect x="476.4" y="655" width="10.6" height="19.3" class="b"/>
<line x1="476.4" y1="665.8" x2="487" y2="665.8" class="m"/>
<line x1="502.25" y1="710.8" x2="502.25" y2="706.6" class="w"/>
<line x1="499.25" y1="710.8" x2="505.25" y2="710.8" class="c"/>
<rect x="496.95" y="703.2" width="10.6" height="3.4" class="b"/>
<line x1="496.95" y1="705" x2="507.55" y2="705" class="m"/>
<circle cx="502.25" cy="678.5" r="1.5" class="o"/>
<text x="70.8" y="733.3" text-anchor="middle" class="t">18</text>
<text x="91.34" y="733.3" text-anchor="middle" class="t">4</text>
<text x="111.89" y="733.3" text-anchor="middle" class="t">17</text>
<text x="132.44" y="733.3" text-anchor="middle" class="t">14</text>
<text x="152.98" y="733.3" text-anchor="middle" class="t">3</text>
<text x="173.53" y="733.3" text-anchor="middle" class="t">21</text>
<text x="194.07" y="733.3" text-anchor="middle" class="t">13</text>
<text x="214.62" y="733.3" text-anchor="middle" class="t">10</text>
<text x="235.16" y="733.3" text-anchor="middle" class="t">7</text>
<text x="255.71" y="733.3" text-anchor="middle" class="t">15</text>
<text x="276.25" y="733.3" text-anchor="middle" class="t">20</text>
<text x="296.8" y="733.3" text-anchor="middle" class="t">8</text>
<text x="317.34" y="733.3" text-anchor="middle" class="t">1</text>
<text x="337.89" y="733.3" text-anchor="middle" class="t">16</text>
<text x="358.43" y="733.3" text-anchor="middle" class="t">12</text>
<text x="378.98" y="733.3" text-anchor="middle" class="t">11</text>
<text x="399.52" y="733.3" text-anchor="middle" class="t">19</text>
<text x="420.07" y="733.3" text-anchor="middle" class="t">5</text>
<text x="440.61" y="733.3" text-anchor="middle" class="t">22</text>
<text x="461.16" y="733.3" text-anchor="middle" class="t">6</text>
<text x="481.7" y="733.3" text-anchor="middle" class="t">9</text>
<text x="502.25" y="733.3" text-anchor="middle" class="t">2</text>
<text x="286" y="758.7" text-anchor="middle" class="t">Patient number</text>
<text transform="translate(20.0,624.2) rotate(-90)" text-anchor="middle" class="t">Free eculizumab (μg/mL)</text>
<text x="-0.2" y="539.5" class="pl">C</text>
</svg>
</body></html>
